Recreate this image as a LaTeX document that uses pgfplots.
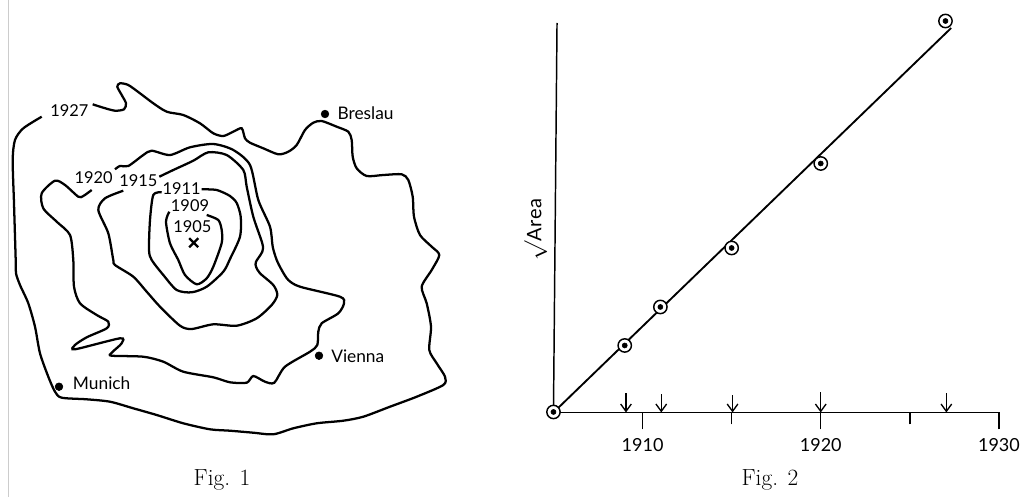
\documentclass[border=0pt]{standalone}
\usepackage{fontspec}
\setmainfont{Lato}
\newfontfamily\capfont{Latin Modern Roman}
\usepackage{pgfplots}
\pgfplotsset{compat=1.18}
\usetikzlibrary{arrows.meta}
\begin{document}
\begin{tikzpicture}
\useasboundingbox (0,0) rectangle (766.5pt,372.75pt);
\begin{axis}[at={(0,0)},anchor=south west,scale only axis,width=766.5pt,height=372.75pt,
  xmin=0,xmax=1022,ymin=0,ymax=497,y dir=reverse,hide axis,clip=false]
\addplot[black!20,line width=0.8pt] coordinates {(8.3,0) (8.3,497)};
% 1927
\addplot[black,line width=1.7pt,smooth,tension=0.45] coordinates {
(92.7,104.3)(103.3,107.7)(115,110.7)(124,109.3)(126,103.3)(121.7,95)(117.3,86.7)(120,83.3)(128.3,85)(140,93.3)(153.3,103.3)(166.7,111.7)(183.3,115)(200,123.3)(213.3,133.3)(223.3,136)(233.3,131.7)(241.7,128.3)(245,138.3)(250,142.7)(263.3,148.3)(278.3,154.3)(288.3,151.7)(296.7,145)(305,130)(313.3,122.7)(321.7,121)(336.7,126.7)(348.3,131.7)(351.7,140)(352.7,156.7)(356.7,168.3)(366.7,176)(383.3,175)(401.7,174.3)(408.3,180)(412.7,196.7)(414,216.7)(420,235)(431.7,246.7)(439.3,255)(431.7,270)(421.7,286.7)(426.7,303.3)(431,326.7)(429.3,350)(436.7,363.3)(445,376.7)(443.3,385)(416.7,396.7)(390,406.7)(363.3,416.7)(343.3,420.7)(316.7,423.3)(293.3,428.3)(273.3,434.3)(253.3,432.7)(230,430.7)(210,429.3)(183.3,423.3)(156.7,415)(133.3,408.3)(110,401.7)(86.7,399.3)(61.7,397.7)(55,391.7)(48.3,376.7)(40,353.3)(35,326.7)(28.3,303.3)(20,285)(16,273.3)(15.7,260)(14,203.3)(12.7,160)(15,140)(23.3,128.3)(41.7,116.7)};
% 1920
\addplot[black,line width=1.7pt,smooth,tension=0.45] coordinates {
(115,169.3)(120,166)(128.3,166)(143.3,155)(151.7,150.7)(170,155)(190,147.3)(213.3,144)(233.3,150)(250,165)(258.3,200)(270,226.7)(272.7,246.7)(276.7,260)(281.7,270)(288.3,280)(300,286.7)(340,296.7)(344,303.3)(338.3,313.3)(321.7,323.3)(318.3,331.7)(317.3,345)(310,351.7)(285,366.7)(274.3,382.7)(265,381.7)(253.3,376)(246.7,382.7)(230,382.3)(213.3,377.3)(183.3,371.7)(163.3,361.7)(143.3,356.7)(111.7,355.7)(111.7,352.7)(121.7,343.3)(120,338.3)(75,349.3)(75,345)(86.7,337.3)(106.7,328.3)(108.3,321.7)(96.7,315)(80,303.3)(74,286.7)(73.3,260)(70,235)(56.7,221.7)(43.3,208.3)(41.7,193.3)(55,180.7)(65,185)(78.3,196.7)(83.3,196)(91.7,190)};
% 1915
\addplot[black,line width=1.7pt,smooth,tension=0.45] coordinates {
(159.3,176.7)(173.3,170)(193.3,160.7)(208.3,152.3)(226.7,155)(243.3,170)(246.7,186.7)(253.3,216.7)(262.3,243.3)(262.3,251.7)(256,261.7)(256,266.7)(260,273.3)(273.3,285)(277.3,295)(271.7,305)(256.7,318.3)(236.7,325.7)(213.3,324.3)(191.7,329)(180,325.7)(160,306.7)(146.7,291.7)(133.3,276.7)(115,265)(113.3,260)(108.3,233.3)(98.3,210)(105,198.3)(123.3,190.7)};
% 1911
\addplot[black,line width=1.7pt,smooth,tension=0.45] coordinates {
(161.7,192.3)(153.3,195)(150,220)(149,250)(151.7,260)(163.3,275)(176.7,290)(191.7,292.3)(206.7,286.7)(223.3,271.7)(230,259)(240,236.7)(240.7,216.7)(236.7,203)(230,196)(216.7,190)(201.7,189.3)};
% 1909
\addplot[black,line width=1.7pt,smooth,tension=0.45] coordinates {
(169.3,211.7)(166,221.7)(170,243.3)(178.3,260)(185,275)(196.7,284.3)(206.7,278.3)(213.3,266.7)(221.7,243)(221.7,230)(218.3,220)(206.7,215)};
% origin and cities
\addplot[black,only marks,mark=x,mark size=4.8pt,mark options={line width=1.7pt}] coordinates {(193.7,242.7)};
\addplot[black,only marks,mark=*,mark size=2.9pt] coordinates {(325,114)(319,355.7)(59,386.7)};
\node[anchor=west,font=\fontsize{13pt}{15pt}\selectfont,inner sep=0] at (axis cs:337.3,113) {Breslau};
\node[anchor=west,font=\fontsize{13pt}{15pt}\selectfont,inner sep=0] at (axis cs:331,356) {Vienna};
\node[anchor=west,font=\fontsize{13pt}{15pt}\selectfont,inner sep=0] at (axis cs:72.7,383.5) {Munich};
\node[font=\fontsize{12.3pt}{15pt}\selectfont,inner sep=0] at (axis cs:69.3,110.7) {1927};
\node[font=\fontsize{12.3pt}{15pt}\selectfont,inner sep=0] at (axis cs:93.7,177.7) {1920};
\node[font=\fontsize{12.3pt}{15pt}\selectfont,inner sep=0] at (axis cs:138.3,180.7) {1915};
\node[font=\fontsize{12.3pt}{15pt}\selectfont,inner sep=0] at (axis cs:181.7,189) {1911};
\node[font=\fontsize{12.3pt}{15pt}\selectfont,inner sep=0] at (axis cs:190,206) {1909};
\node[font=\fontsize{12.3pt}{15pt}\selectfont,inner sep=0] at (axis cs:192.3,226.7) {1905};
\node[font=\capfont\fontsize{17.5pt}{19pt}\selectfont,inner sep=0] at (axis cs:222,480) {Fig. 1};
\end{axis}
\begin{axis}[at={(415.1pt,63.4pt)},anchor=south west,scale only axis,width=334.1pt,height=292.1pt,
  xmin=1905,xmax=1930,ymin=0,ymax=389.5,clip=false,
  axis x line=bottom,axis y line=left,x axis line style={-,line width=1.3pt},
  y axis line style={draw=none},ytick=\empty,
  xtick={1910,1920,1930},minor xtick={1915,1925},xticklabels={1910,1920,1930},
  tick align=outside,major tick length=12.75pt,minor tick length=9pt,
  tick style={black,line width=1pt},
  xticklabel style={yshift=-3pt,font=\fontsize{13.5pt}{16pt}\selectfont,/pgf/number format/assume math mode=true},
  xlabel={\capfont\fontsize{17.5pt}{19pt}\selectfont Fig. 2},
  every axis x label/.style={at={(axis description cs:0.486,-0.173)},anchor=center},
  ylabel={\scalebox{1.2}{\(\surd\)}\addfontfeature{LetterSpace=4}Area},
  every axis y label/.style={at={(axis description cs:-0.04,0.47)},rotate=90,anchor=center,font=\fontsize{15pt}{17pt}\selectfont}]
% y axis, slightly slanted as drawn
\addplot[black,line width=1.1pt] coordinates {(1905,0) (1905.2,389.5)};
% arrows
\addplot[black,line width=1pt,-{Straight Barb[length=5.5pt,width=8pt]},quiver={u=0,v=\thisrow{v}}] table {
x y v
1909.07 19 -19
1911.05 18 -18
1915.05 17 -17
1920 20 -20
1927.05 19 -19
};
% fitted line
\addplot[black,line width=1.4pt] coordinates {(1905,0) (1927.32,384.5)};
% observations
\addplot[black,only marks,mark=*,mark size=5pt,mark options={fill=white,line width=1.1pt}] coordinates {(1905,0.5)(1909,67)(1911,105.5)(1915,164.5)(1920,249)(1927,391.5)};
\addplot[black,only marks,mark=*,mark size=1.9pt] coordinates {(1905,0.5)(1909,67)(1911,105.5)(1915,164.5)(1920,249)(1927,391.5)};
\end{axis}
\end{tikzpicture}
\end{document}
